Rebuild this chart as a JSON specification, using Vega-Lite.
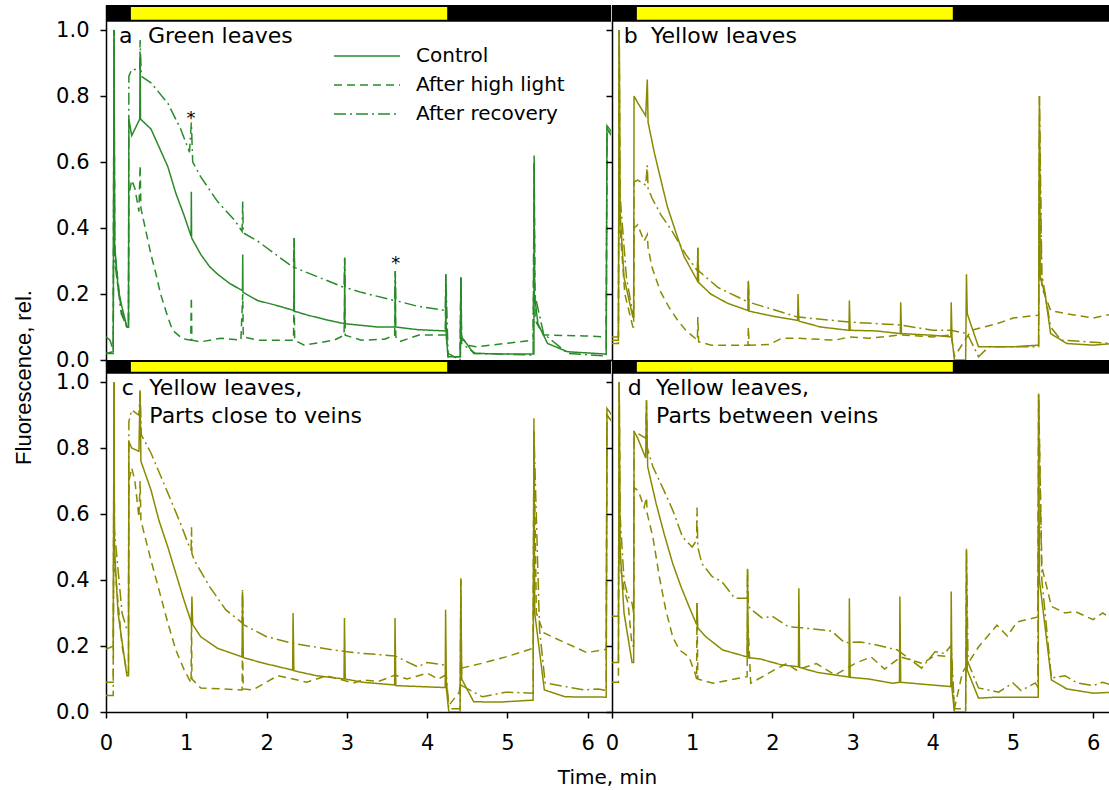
{
"$schema": "https://vega.github.io/schema/vega-lite/v6.json",
"padding": {"left": 12, "top": 5, "right": 0, "bottom": 0},
"background": "white",
"bounds": "flush",
"columns": 2,
"spacing": {"row": 0, "column": 1},
"resolve": {"scale": {"strokeDash": "independent"}, "legend": {"strokeDash": "independent"}},
"config": {
  "view": {"stroke": null},
  "font": "DejaVu Sans",
  "axis": {"grid": false, "domainColor": "black", "domainWidth": 1.5, "tickColor": "black", "tickWidth": 1.5, "tickSize": 6, "labelColor": "black", "labelFont": "DejaVu Sans", "labelFontSize": 21, "labelFlush": false, "labelOverlap": false, "titleColor": "black", "titleFontWeight": "normal"}
},
"datasets": {
  "bars": [{"phase": "dark", "start": 0, "end": 6.4}, {"phase": "light", "start": 0.31, "end": 4.25}],
  "labels": [
    {"panel": "a", "letter": "a", "l1": "Green leaves", "l2": ""},
    {"panel": "b", "letter": "b", "l1": "Yellow leaves", "l2": ""},
    {"panel": "c", "letter": "c", "l1": "Yellow leaves,", "l2": "Parts close to veins"},
    {"panel": "d", "letter": "d", "l1": "Yellow leaves,", "l2": "Parts between veins"}
  ],
  "stars": [{"t": 1.06, "v": 0.715}, {"t": 3.61, "v": 0.276}],
  "a": [
{"s":"C","t":0,"v":0.02},{"s":"C","t":0.09,"v":0.025},{"s":"C","t":0.1,"v":1.0},{"s":"C","t":0.108,"v":0.35},{"s":"C","t":0.15,"v":0.22},{"s":"C","t":0.19,"v":0.17},{"s":"C","t":0.26,"v":0.1},{"s":"C","t":0.28,"v":0.1},{"s":"C","t":0.285,"v":0.73},{"s":"C","t":0.32,"v":0.68},{"s":"C","t":0.42,"v":0.73},{"s":"C","t":0.425,"v":0.93},{"s":"C","t":0.43,"v":0.73},{"s":"C","t":0.56,"v":0.7},{"s":"C","t":0.66,"v":0.646},{"s":"C","t":0.77,"v":0.586},{"s":"C","t":0.87,"v":0.505},{"s":"C","t":0.97,"v":0.44},{"s":"C","t":1.06,"v":0.375},{"s":"C","t":1.063,"v":0.51},{"s":"C","t":1.066,"v":0.37},{"s":"C","t":1.18,"v":0.32},{"s":"C","t":1.29,"v":0.283},{"s":"C","t":1.39,"v":0.26},{"s":"C","t":1.54,"v":0.232},{"s":"C","t":1.7,"v":0.21},{"s":"C","t":1.703,"v":0.32},{"s":"C","t":1.706,"v":0.205},{"s":"C","t":1.89,"v":0.18},{"s":"C","t":2.1,"v":0.167},{"s":"C","t":2.34,"v":0.15},{"s":"C","t":2.343,"v":0.37},{"s":"C","t":2.346,"v":0.148},{"s":"C","t":2.51,"v":0.136},{"s":"C","t":2.76,"v":0.121},{"s":"C","t":2.97,"v":0.11},{"s":"C","t":2.973,"v":0.31},{"s":"C","t":2.976,"v":0.11},{"s":"C","t":3.18,"v":0.105},{"s":"C","t":3.38,"v":0.1},{"s":"C","t":3.6,"v":0.1},{"s":"C","t":3.603,"v":0.27},{"s":"C","t":3.606,"v":0.1},{"s":"C","t":3.88,"v":0.092},{"s":"C","t":4.23,"v":0.088},{"s":"C","t":4.233,"v":0.26},{"s":"C","t":4.236,"v":0.085},{"s":"C","t":4.26,"v":0.01},{"s":"C","t":4.415,"v":0.01},{"s":"C","t":4.42,"v":0.25},{"s":"C","t":4.425,"v":0.06},{"s":"C","t":4.46,"v":0.06},{"s":"C","t":4.58,"v":0.02},{"s":"C","t":5.0,"v":0.018},{"s":"C","t":5.33,"v":0.018},{"s":"C","t":5.333,"v":0.62},{"s":"C","t":5.336,"v":0.2},{"s":"C","t":5.38,"v":0.11},{"s":"C","t":5.5,"v":0.05},{"s":"C","t":5.75,"v":0.025},{"s":"C","t":6.23,"v":0.018},{"s":"C","t":6.24,"v":0.71},{"s":"C","t":6.3,"v":0.69},
{"s":"H","t":0,"v":0.02},{"s":"H","t":0.09,"v":0.02},{"s":"H","t":0.1,"v":1.0},{"s":"H","t":0.108,"v":0.33},{"s":"H","t":0.19,"v":0.15},{"s":"H","t":0.26,"v":0.1},{"s":"H","t":0.28,"v":0.1},{"s":"H","t":0.285,"v":0.5},{"s":"H","t":0.32,"v":0.545},{"s":"H","t":0.36,"v":0.52},{"s":"H","t":0.41,"v":0.45},{"s":"H","t":0.425,"v":0.59},{"s":"H","t":0.435,"v":0.46},{"s":"H","t":0.56,"v":0.32},{"s":"H","t":0.62,"v":0.263},{"s":"H","t":0.68,"v":0.2},{"s":"H","t":0.77,"v":0.13},{"s":"H","t":0.83,"v":0.09},{"s":"H","t":0.95,"v":0.065},{"s":"H","t":1.055,"v":0.06},{"s":"H","t":1.063,"v":0.19},{"s":"H","t":1.07,"v":0.06},{"s":"H","t":1.18,"v":0.055},{"s":"H","t":1.43,"v":0.066},{"s":"H","t":1.68,"v":0.06},{"s":"H","t":1.703,"v":0.2},{"s":"H","t":1.71,"v":0.07},{"s":"H","t":1.89,"v":0.06},{"s":"H","t":2.335,"v":0.06},{"s":"H","t":2.343,"v":0.2},{"s":"H","t":2.35,"v":0.06},{"s":"H","t":2.47,"v":0.045},{"s":"H","t":2.84,"v":0.06},{"s":"H","t":2.965,"v":0.075},{"s":"H","t":2.973,"v":0.2},{"s":"H","t":2.98,"v":0.075},{"s":"H","t":3.18,"v":0.06},{"s":"H","t":3.47,"v":0.063},{"s":"H","t":3.595,"v":0.075},{"s":"H","t":3.603,"v":0.2},{"s":"H","t":3.61,"v":0.07},{"s":"H","t":3.66,"v":0.056},{"s":"H","t":3.9,"v":0.076},{"s":"H","t":4.225,"v":0.076},{"s":"H","t":4.233,"v":0.2},{"s":"H","t":4.24,"v":0.07},{"s":"H","t":4.26,"v":0.01},{"s":"H","t":4.41,"v":0.01},{"s":"H","t":4.42,"v":0.25},{"s":"H","t":4.43,"v":0.07},{"s":"H","t":4.5,"v":0.045},{"s":"H","t":4.61,"v":0.04},{"s":"H","t":4.97,"v":0.05},{"s":"H","t":5.32,"v":0.06},{"s":"H","t":5.333,"v":0.6},{"s":"H","t":5.345,"v":0.12},{"s":"H","t":5.45,"v":0.076},{"s":"H","t":5.95,"v":0.073},{"s":"H","t":6.23,"v":0.07},{"s":"H","t":6.24,"v":0.7},{"s":"H","t":6.3,"v":0.68},
{"s":"R","t":0,"v":0.07},{"s":"R","t":0.05,"v":0.06},{"s":"R","t":0.09,"v":0.03},{"s":"R","t":0.1,"v":1.0},{"s":"R","t":0.108,"v":0.3},{"s":"R","t":0.19,"v":0.14},{"s":"R","t":0.26,"v":0.1},{"s":"R","t":0.28,"v":0.1},{"s":"R","t":0.285,"v":0.86},{"s":"R","t":0.32,"v":0.88},{"s":"R","t":0.42,"v":0.88},{"s":"R","t":0.425,"v":0.97},{"s":"R","t":0.44,"v":0.86},{"s":"R","t":0.56,"v":0.84},{"s":"R","t":0.77,"v":0.778},{"s":"R","t":0.93,"v":0.7},{"s":"R","t":1.04,"v":0.63},{"s":"R","t":1.063,"v":0.72},{"s":"R","t":1.08,"v":0.6},{"s":"R","t":1.18,"v":0.555},{"s":"R","t":1.39,"v":0.48},{"s":"R","t":1.6,"v":0.424},{"s":"R","t":1.695,"v":0.39},{"s":"R","t":1.703,"v":0.48},{"s":"R","t":1.71,"v":0.385},{"s":"R","t":1.89,"v":0.36},{"s":"R","t":2.335,"v":0.28},{"s":"R","t":2.343,"v":0.37},{"s":"R","t":2.35,"v":0.28},{"s":"R","t":2.965,"v":0.22},{"s":"R","t":2.973,"v":0.31},{"s":"R","t":2.98,"v":0.22},{"s":"R","t":3.18,"v":0.205},{"s":"R","t":3.595,"v":0.18},{"s":"R","t":3.603,"v":0.27},{"s":"R","t":3.61,"v":0.18},{"s":"R","t":3.88,"v":0.163},{"s":"R","t":4.225,"v":0.15},{"s":"R","t":4.233,"v":0.26},{"s":"R","t":4.26,"v":0.02},{"s":"R","t":4.41,"v":0.0},{"s":"R","t":4.42,"v":0.25},{"s":"R","t":4.43,"v":0.05},{"s":"R","t":4.6,"v":0.02},{"s":"R","t":5.32,"v":0.015},{"s":"R","t":5.333,"v":0.6},{"s":"R","t":5.34,"v":0.2},{"s":"R","t":5.45,"v":0.08},{"s":"R","t":5.75,"v":0.02},{"s":"R","t":6.23,"v":0.012},{"s":"R","t":6.24,"v":0.7},{"s":"R","t":6.3,"v":0.68}
  ],
  "b": [
{"s":"C","t":0,"v":0.06},{"s":"C","t":0.08,"v":0.06},{"s":"C","t":0.09,"v":1.0},{"s":"C","t":0.1,"v":0.45},{"s":"C","t":0.15,"v":0.25},{"s":"C","t":0.26,"v":0.13},{"s":"C","t":0.27,"v":0.13},{"s":"C","t":0.275,"v":0.8},{"s":"C","t":0.32,"v":0.78},{"s":"C","t":0.42,"v":0.74},{"s":"C","t":0.44,"v":0.85},{"s":"C","t":0.45,"v":0.72},{"s":"C","t":0.53,"v":0.626},{"s":"C","t":0.61,"v":0.545},{"s":"C","t":0.69,"v":0.465},{"s":"C","t":0.8,"v":0.384},{"s":"C","t":0.9,"v":0.313},{"s":"C","t":1.065,"v":0.24},{"s":"C","t":1.07,"v":0.34},{"s":"C","t":1.08,"v":0.235},{"s":"C","t":1.23,"v":0.2},{"s":"C","t":1.44,"v":0.172},{"s":"C","t":1.695,"v":0.15},{"s":"C","t":1.7,"v":0.24},{"s":"C","t":1.71,"v":0.148},{"s":"C","t":2.0,"v":0.133},{"s":"C","t":2.315,"v":0.12},{"s":"C","t":2.32,"v":0.2},{"s":"C","t":2.33,"v":0.118},{"s":"C","t":2.6,"v":0.1},{"s":"C","t":2.955,"v":0.09},{"s":"C","t":2.96,"v":0.18},{"s":"C","t":2.97,"v":0.09},{"s":"C","t":3.3,"v":0.088},{"s":"C","t":3.595,"v":0.08},{"s":"C","t":3.6,"v":0.175},{"s":"C","t":3.61,"v":0.08},{"s":"C","t":4.0,"v":0.075},{"s":"C","t":4.225,"v":0.07},{"s":"C","t":4.23,"v":0.175},{"s":"C","t":4.24,"v":0.065},{"s":"C","t":4.27,"v":0.0},{"s":"C","t":4.41,"v":0.0},{"s":"C","t":4.42,"v":0.26},{"s":"C","t":4.43,"v":0.14},{"s":"C","t":4.57,"v":0.04},{"s":"C","t":5.0,"v":0.04},{"s":"C","t":5.32,"v":0.045},{"s":"C","t":5.33,"v":0.8},{"s":"C","t":5.34,"v":0.25},{"s":"C","t":5.4,"v":0.2},{"s":"C","t":5.47,"v":0.08},{"s":"C","t":5.67,"v":0.05},{"s":"C","t":6.0,"v":0.045},{"s":"C","t":6.25,"v":0.05},
{"s":"H","t":0,"v":0.05},{"s":"H","t":0.08,"v":0.05},{"s":"H","t":0.09,"v":1.0},{"s":"H","t":0.1,"v":0.4},{"s":"H","t":0.16,"v":0.2},{"s":"H","t":0.26,"v":0.1},{"s":"H","t":0.27,"v":0.1},{"s":"H","t":0.275,"v":0.4},{"s":"H","t":0.32,"v":0.41},{"s":"H","t":0.4,"v":0.36},{"s":"H","t":0.44,"v":0.38},{"s":"H","t":0.45,"v":0.34},{"s":"H","t":0.5,"v":0.28},{"s":"H","t":0.6,"v":0.21},{"s":"H","t":0.71,"v":0.16},{"s":"H","t":0.82,"v":0.12},{"s":"H","t":0.92,"v":0.09},{"s":"H","t":1.065,"v":0.06},{"s":"H","t":1.07,"v":0.13},{"s":"H","t":1.08,"v":0.055},{"s":"H","t":1.24,"v":0.045},{"s":"H","t":1.695,"v":0.045},{"s":"H","t":1.7,"v":0.1},{"s":"H","t":1.71,"v":0.045},{"s":"H","t":1.96,"v":0.047},{"s":"H","t":2.12,"v":0.066},{"s":"H","t":2.33,"v":0.066},{"s":"H","t":2.78,"v":0.06},{"s":"H","t":2.96,"v":0.07},{"s":"H","t":3.2,"v":0.066},{"s":"H","t":3.6,"v":0.076},{"s":"H","t":4.0,"v":0.07},{"s":"H","t":4.23,"v":0.076},{"s":"H","t":4.27,"v":0.01},{"s":"H","t":4.48,"v":0.09},{"s":"H","t":4.8,"v":0.11},{"s":"H","t":5.0,"v":0.127},{"s":"H","t":5.32,"v":0.136},{"s":"H","t":5.33,"v":0.7},{"s":"H","t":5.36,"v":0.22},{"s":"H","t":5.47,"v":0.15},{"s":"H","t":5.67,"v":0.14},{"s":"H","t":6.0,"v":0.127},{"s":"H","t":6.25,"v":0.14},
{"s":"R","t":0,"v":0.07},{"s":"R","t":0.08,"v":0.07},{"s":"R","t":0.09,"v":1.0},{"s":"R","t":0.1,"v":0.5},{"s":"R","t":0.18,"v":0.25},{"s":"R","t":0.26,"v":0.14},{"s":"R","t":0.27,"v":0.14},{"s":"R","t":0.275,"v":0.54},{"s":"R","t":0.32,"v":0.545},{"s":"R","t":0.42,"v":0.53},{"s":"R","t":0.44,"v":0.59},{"s":"R","t":0.45,"v":0.52},{"s":"R","t":0.5,"v":0.49},{"s":"R","t":0.61,"v":0.44},{"s":"R","t":0.75,"v":0.39},{"s":"R","t":0.92,"v":0.32},{"s":"R","t":1.065,"v":0.27},{"s":"R","t":1.07,"v":0.34},{"s":"R","t":1.08,"v":0.27},{"s":"R","t":1.32,"v":0.22},{"s":"R","t":1.695,"v":0.176},{"s":"R","t":1.7,"v":0.24},{"s":"R","t":1.71,"v":0.175},{"s":"R","t":2.32,"v":0.13},{"s":"R","t":2.96,"v":0.115},{"s":"R","t":3.6,"v":0.106},{"s":"R","t":4.0,"v":0.09},{"s":"R","t":4.23,"v":0.09},{"s":"R","t":4.43,"v":0.08},{"s":"R","t":4.57,"v":0.01},{"s":"R","t":4.7,"v":0.04},{"s":"R","t":5.32,"v":0.04},{"s":"R","t":5.33,"v":0.8},{"s":"R","t":5.36,"v":0.26},{"s":"R","t":5.47,"v":0.1},{"s":"R","t":5.6,"v":0.06},{"s":"R","t":6.25,"v":0.05}
  ],
  "c": [
{"s":"C","t":0,"v":0.19},{"s":"C","t":0.09,"v":0.2},{"s":"C","t":0.1,"v":1.0},{"s":"C","t":0.105,"v":0.5},{"s":"C","t":0.15,"v":0.3},{"s":"C","t":0.26,"v":0.11},{"s":"C","t":0.28,"v":0.11},{"s":"C","t":0.285,"v":0.82},{"s":"C","t":0.32,"v":0.8},{"s":"C","t":0.41,"v":0.79},{"s":"C","t":0.425,"v":0.975},{"s":"C","t":0.435,"v":0.76},{"s":"C","t":0.56,"v":0.673},{"s":"C","t":0.66,"v":0.58},{"s":"C","t":0.77,"v":0.5},{"s":"C","t":0.87,"v":0.42},{"s":"C","t":0.97,"v":0.34},{"s":"C","t":1.065,"v":0.27},{"s":"C","t":1.07,"v":0.35},{"s":"C","t":1.08,"v":0.265},{"s":"C","t":1.18,"v":0.228},{"s":"C","t":1.39,"v":0.193},{"s":"C","t":1.695,"v":0.167},{"s":"C","t":1.7,"v":0.365},{"s":"C","t":1.71,"v":0.165},{"s":"C","t":1.96,"v":0.148},{"s":"C","t":2.325,"v":0.127},{"s":"C","t":2.33,"v":0.3},{"s":"C","t":2.34,"v":0.125},{"s":"C","t":2.62,"v":0.11},{"s":"C","t":2.965,"v":0.1},{"s":"C","t":2.97,"v":0.285},{"s":"C","t":2.98,"v":0.1},{"s":"C","t":3.2,"v":0.09},{"s":"C","t":3.595,"v":0.082},{"s":"C","t":3.6,"v":0.285},{"s":"C","t":3.61,"v":0.08},{"s":"C","t":4.225,"v":0.074},{"s":"C","t":4.23,"v":0.31},{"s":"C","t":4.24,"v":0.07},{"s":"C","t":4.27,"v":0.0},{"s":"C","t":4.41,"v":0.0},{"s":"C","t":4.42,"v":0.405},{"s":"C","t":4.43,"v":0.1},{"s":"C","t":4.58,"v":0.031},{"s":"C","t":4.9,"v":0.03},{"s":"C","t":5.32,"v":0.036},{"s":"C","t":5.33,"v":0.89},{"s":"C","t":5.34,"v":0.3},{"s":"C","t":5.46,"v":0.067},{"s":"C","t":5.72,"v":0.046},{"s":"C","t":6.23,"v":0.045},{"s":"C","t":6.24,"v":0.92},{"s":"C","t":6.3,"v":0.9},
{"s":"H","t":0,"v":0.09},{"s":"H","t":0.09,"v":0.09},{"s":"H","t":0.1,"v":1.0},{"s":"H","t":0.105,"v":0.45},{"s":"H","t":0.2,"v":0.2},{"s":"H","t":0.26,"v":0.12},{"s":"H","t":0.28,"v":0.12},{"s":"H","t":0.285,"v":0.7},{"s":"H","t":0.32,"v":0.74},{"s":"H","t":0.36,"v":0.7},{"s":"H","t":0.41,"v":0.59},{"s":"H","t":0.425,"v":0.7},{"s":"H","t":0.435,"v":0.58},{"s":"H","t":0.56,"v":0.46},{"s":"H","t":0.66,"v":0.37},{"s":"H","t":0.77,"v":0.27},{"s":"H","t":0.87,"v":0.188},{"s":"H","t":0.975,"v":0.127},{"s":"H","t":1.06,"v":0.088},{"s":"H","t":1.065,"v":0.3},{"s":"H","t":1.07,"v":0.1},{"s":"H","t":1.18,"v":0.073},{"s":"H","t":1.695,"v":0.067},{"s":"H","t":1.7,"v":0.2},{"s":"H","t":1.71,"v":0.07},{"s":"H","t":1.83,"v":0.067},{"s":"H","t":2.14,"v":0.11},{"s":"H","t":2.33,"v":0.1},{"s":"H","t":2.5,"v":0.09},{"s":"H","t":2.75,"v":0.11},{"s":"H","t":3.08,"v":0.088},{"s":"H","t":3.2,"v":0.097},{"s":"H","t":3.4,"v":0.093},{"s":"H","t":3.6,"v":0.112},{"s":"H","t":3.75,"v":0.1},{"s":"H","t":4.0,"v":0.118},{"s":"H","t":4.14,"v":0.1},{"s":"H","t":4.23,"v":0.112},{"s":"H","t":4.27,"v":0.02},{"s":"H","t":4.4,"v":0.06},{"s":"H","t":4.43,"v":0.133},{"s":"H","t":4.69,"v":0.148},{"s":"H","t":4.98,"v":0.167},{"s":"H","t":5.32,"v":0.193},{"s":"H","t":5.33,"v":0.85},{"s":"H","t":5.36,"v":0.3},{"s":"H","t":5.45,"v":0.24},{"s":"H","t":5.7,"v":0.212},{"s":"H","t":5.99,"v":0.18},{"s":"H","t":6.23,"v":0.19},{"s":"H","t":6.24,"v":0.9},{"s":"H","t":6.3,"v":0.88},
{"s":"R","t":0,"v":0.05},{"s":"R","t":0.09,"v":0.05},{"s":"R","t":0.1,"v":1.0},{"s":"R","t":0.105,"v":0.55},{"s":"R","t":0.2,"v":0.3},{"s":"R","t":0.26,"v":0.25},{"s":"R","t":0.28,"v":0.25},{"s":"R","t":0.285,"v":0.88},{"s":"R","t":0.32,"v":0.915},{"s":"R","t":0.41,"v":0.9},{"s":"R","t":0.425,"v":0.97},{"s":"R","t":0.44,"v":0.84},{"s":"R","t":0.56,"v":0.785},{"s":"R","t":0.77,"v":0.664},{"s":"R","t":0.93,"v":0.57},{"s":"R","t":1.04,"v":0.5},{"s":"R","t":1.06,"v":0.49},{"s":"R","t":1.065,"v":0.56},{"s":"R","t":1.07,"v":0.48},{"s":"R","t":1.1,"v":0.46},{"s":"R","t":1.29,"v":0.38},{"s":"R","t":1.49,"v":0.31},{"s":"R","t":1.695,"v":0.27},{"s":"R","t":1.7,"v":0.37},{"s":"R","t":1.71,"v":0.265},{"s":"R","t":2.0,"v":0.228},{"s":"R","t":2.33,"v":0.208},{"s":"R","t":2.83,"v":0.188},{"s":"R","t":3.08,"v":0.18},{"s":"R","t":3.6,"v":0.17},{"s":"R","t":3.88,"v":0.137},{"s":"R","t":4.0,"v":0.15},{"s":"R","t":4.23,"v":0.142},{"s":"R","t":4.27,"v":0.01},{"s":"R","t":4.41,"v":0.01},{"s":"R","t":4.42,"v":0.4},{"s":"R","t":4.43,"v":0.08},{"s":"R","t":4.69,"v":0.046},{"s":"R","t":4.98,"v":0.06},{"s":"R","t":5.32,"v":0.057},{"s":"R","t":5.33,"v":0.85},{"s":"R","t":5.4,"v":0.25},{"s":"R","t":5.47,"v":0.088},{"s":"R","t":5.95,"v":0.067},{"s":"R","t":6.13,"v":0.07},{"s":"R","t":6.23,"v":0.065},{"s":"R","t":6.24,"v":0.9},{"s":"R","t":6.3,"v":0.88}
  ],
  "d": [
{"s":"C","t":0,"v":0.15},{"s":"C","t":0.08,"v":0.15},{"s":"C","t":0.09,"v":1.0},{"s":"C","t":0.1,"v":0.5},{"s":"C","t":0.15,"v":0.3},{"s":"C","t":0.25,"v":0.15},{"s":"C","t":0.27,"v":0.15},{"s":"C","t":0.275,"v":0.85},{"s":"C","t":0.32,"v":0.83},{"s":"C","t":0.42,"v":0.77},{"s":"C","t":0.43,"v":0.945},{"s":"C","t":0.445,"v":0.743},{"s":"C","t":0.55,"v":0.632},{"s":"C","t":0.65,"v":0.54},{"s":"C","t":0.757,"v":0.45},{"s":"C","t":0.86,"v":0.38},{"s":"C","t":0.96,"v":0.32},{"s":"C","t":1.055,"v":0.265},{"s":"C","t":1.06,"v":0.33},{"s":"C","t":1.07,"v":0.255},{"s":"C","t":1.17,"v":0.228},{"s":"C","t":1.38,"v":0.188},{"s":"C","t":1.685,"v":0.167},{"s":"C","t":1.69,"v":0.43},{"s":"C","t":1.7,"v":0.165},{"s":"C","t":1.86,"v":0.16},{"s":"C","t":2.11,"v":0.143},{"s":"C","t":2.325,"v":0.137},{"s":"C","t":2.33,"v":0.375},{"s":"C","t":2.34,"v":0.135},{"s":"C","t":2.56,"v":0.12},{"s":"C","t":2.955,"v":0.106},{"s":"C","t":2.96,"v":0.345},{"s":"C","t":2.97,"v":0.105},{"s":"C","t":3.2,"v":0.1},{"s":"C","t":3.5,"v":0.087},{"s":"C","t":3.585,"v":0.09},{"s":"C","t":3.59,"v":0.35},{"s":"C","t":3.6,"v":0.09},{"s":"C","t":4.225,"v":0.077},{"s":"C","t":4.23,"v":0.365},{"s":"C","t":4.24,"v":0.07},{"s":"C","t":4.27,"v":0.0},{"s":"C","t":4.41,"v":0.0},{"s":"C","t":4.42,"v":0.495},{"s":"C","t":4.43,"v":0.127},{"s":"C","t":4.57,"v":0.042},{"s":"C","t":4.8,"v":0.045},{"s":"C","t":5.315,"v":0.045},{"s":"C","t":5.32,"v":0.965},{"s":"C","t":5.33,"v":0.4},{"s":"C","t":5.48,"v":0.097},{"s":"C","t":5.67,"v":0.07},{"s":"C","t":6.0,"v":0.057},{"s":"C","t":6.25,"v":0.06},
{"s":"H","t":0,"v":0.09},{"s":"H","t":0.08,"v":0.09},{"s":"H","t":0.09,"v":1.0},{"s":"H","t":0.1,"v":0.45},{"s":"H","t":0.15,"v":0.37},{"s":"H","t":0.2,"v":0.33},{"s":"H","t":0.25,"v":0.2},{"s":"H","t":0.27,"v":0.2},{"s":"H","t":0.275,"v":0.68},{"s":"H","t":0.33,"v":0.67},{"s":"H","t":0.4,"v":0.62},{"s":"H","t":0.43,"v":0.65},{"s":"H","t":0.44,"v":0.6},{"s":"H","t":0.51,"v":0.53},{"s":"H","t":0.59,"v":0.41},{"s":"H","t":0.67,"v":0.31},{"s":"H","t":0.757,"v":0.228},{"s":"H","t":0.84,"v":0.188},{"s":"H","t":0.96,"v":0.167},{"s":"H","t":1.04,"v":0.115},{"s":"H","t":1.055,"v":0.1},{"s":"H","t":1.06,"v":0.33},{"s":"H","t":1.07,"v":0.1},{"s":"H","t":1.26,"v":0.087},{"s":"H","t":1.685,"v":0.107},{"s":"H","t":1.69,"v":0.3},{"s":"H","t":1.73,"v":0.087},{"s":"H","t":2.02,"v":0.127},{"s":"H","t":2.18,"v":0.147},{"s":"H","t":2.3,"v":0.127},{"s":"H","t":2.55,"v":0.147},{"s":"H","t":2.78,"v":0.112},{"s":"H","t":3.03,"v":0.147},{"s":"H","t":3.23,"v":0.167},{"s":"H","t":3.4,"v":0.13},{"s":"H","t":3.6,"v":0.167},{"s":"H","t":3.87,"v":0.147},{"s":"H","t":4.03,"v":0.172},{"s":"H","t":4.23,"v":0.167},{"s":"H","t":4.27,"v":0.01},{"s":"H","t":4.37,"v":0.12},{"s":"H","t":4.57,"v":0.197},{"s":"H","t":4.8,"v":0.263},{"s":"H","t":4.93,"v":0.23},{"s":"H","t":5.05,"v":0.273},{"s":"H","t":5.31,"v":0.288},{"s":"H","t":5.32,"v":0.96},{"s":"H","t":5.36,"v":0.44},{"s":"H","t":5.48,"v":0.32},{"s":"H","t":5.65,"v":0.3},{"s":"H","t":5.77,"v":0.305},{"s":"H","t":6.0,"v":0.28},{"s":"H","t":6.12,"v":0.3},{"s":"H","t":6.25,"v":0.28},
{"s":"R","t":0,"v":0.29},{"s":"R","t":0.08,"v":0.29},{"s":"R","t":0.09,"v":1.0},{"s":"R","t":0.1,"v":0.6},{"s":"R","t":0.15,"v":0.4},{"s":"R","t":0.2,"v":0.35},{"s":"R","t":0.25,"v":0.33},{"s":"R","t":0.27,"v":0.3},{"s":"R","t":0.275,"v":0.85},{"s":"R","t":0.42,"v":0.83},{"s":"R","t":0.43,"v":0.945},{"s":"R","t":0.44,"v":0.8},{"s":"R","t":0.51,"v":0.743},{"s":"R","t":0.65,"v":0.67},{"s":"R","t":0.76,"v":0.61},{"s":"R","t":0.88,"v":0.53},{"s":"R","t":1.0,"v":0.5},{"s":"R","t":1.055,"v":0.52},{"s":"R","t":1.06,"v":0.62},{"s":"R","t":1.07,"v":0.5},{"s":"R","t":1.12,"v":0.45},{"s":"R","t":1.25,"v":0.41},{"s":"R","t":1.37,"v":0.395},{"s":"R","t":1.53,"v":0.345},{"s":"R","t":1.685,"v":0.345},{"s":"R","t":1.69,"v":0.44},{"s":"R","t":1.7,"v":0.32},{"s":"R","t":1.74,"v":0.31},{"s":"R","t":1.87,"v":0.285},{"s":"R","t":2.0,"v":0.29},{"s":"R","t":2.2,"v":0.258},{"s":"R","t":2.37,"v":0.255},{"s":"R","t":2.57,"v":0.25},{"s":"R","t":2.74,"v":0.245},{"s":"R","t":2.9,"v":0.21},{"s":"R","t":3.1,"v":0.212},{"s":"R","t":3.3,"v":0.203},{"s":"R","t":3.56,"v":0.188},{"s":"R","t":3.7,"v":0.162},{"s":"R","t":3.86,"v":0.133},{"s":"R","t":4.03,"v":0.183},{"s":"R","t":4.15,"v":0.177},{"s":"R","t":4.23,"v":0.203},{"s":"R","t":4.27,"v":0.01},{"s":"R","t":4.41,"v":0.01},{"s":"R","t":4.42,"v":0.49},{"s":"R","t":4.44,"v":0.15},{"s":"R","t":4.57,"v":0.073},{"s":"R","t":4.82,"v":0.06},{"s":"R","t":5.0,"v":0.088},{"s":"R","t":5.1,"v":0.065},{"s":"R","t":5.28,"v":0.088},{"s":"R","t":5.31,"v":0.075},{"s":"R","t":5.32,"v":0.96},{"s":"R","t":5.36,"v":0.4},{"s":"R","t":5.48,"v":0.103},{"s":"R","t":5.65,"v":0.11},{"s":"R","t":5.8,"v":0.088},{"s":"R","t":6.0,"v":0.08},{"s":"R","t":6.12,"v":0.09},{"s":"R","t":6.25,"v":0.08}
  ]
},
"concat": [
  {
    "width": 505, "height": 355,
    "layer": [
      {"data": {"name": "a"}, "mark": {"type": "line", "color": "#2a8a2a", "strokeWidth": 1.5, "clip": true},
       "encoding": {
         "x": {"field": "t", "type": "quantitative", "scale": {"domain": [0, 6.29], "nice": false, "zero": false}, "axis": null},
         "y": {"field": "v", "type": "quantitative", "scale": {"domain": [0, 1.0758], "nice": false}, "axis": {"values": [0, 0.2, 0.4, 0.6, 0.8, 1.0], "format": ".1f", "labelPadding": 11, "title": "Fluorescence, rel.", "titleFont": "Liberation Sans", "titleFontSize": 22, "titleX": -83, "titleY": 372, "titleAngle": -90, "titleAlign": "center", "titleBaseline": "middle"}},
         "strokeDash": {"field": "s", "type": "nominal", "scale": {"domain": ["C", "H", "R"], "range": [[1, 0], [8, 5], [12, 4, 2, 4]]},
           "legend": {"orient": "none", "legendX": 250, "legendY": 40, "title": null, "symbolType": "M-3.3,0H3.3", "symbolStrokeColor": "#2a8a2a", "symbolStrokeWidth": 1.5, "symbolSize": 400, "labelFont": "DejaVu Sans", "labelFontSize": 20, "labelColor": "black", "labelOffset": 38, "rowPadding": 8, "padding": 0,
             "labelExpr": "datum.value == 'C' ? 'Control' : datum.value == 'H' ? 'After high light' : 'After recovery'"}}
       }},
      {"data": {"name": "bars"}, "transform": [{"filter": "datum.phase === 'dark'"}], "mark": {"type": "rect", "color": "black", "clip": true},
       "encoding": {"x": {"field": "start", "type": "quantitative"}, "x2": {"field": "end"}, "y": {"datum": 1.025, "type": "quantitative"}, "y2": {"datum": 1.0758}}},
      {"data": {"name": "bars"}, "transform": [{"filter": "datum.phase === 'light'"}], "mark": {"type": "rect", "color": "#ffff00", "clip": true},
       "encoding": {"x": {"field": "start", "type": "quantitative"}, "x2": {"field": "end"}, "y": {"datum": 1.031, "type": "quantitative"}, "y2": {"datum": 1.0697}}},
      {"data": {"name": "labels"}, "transform": [{"filter": "datum.panel === 'a'"}], "mark": {"type": "text", "align": "left", "baseline": "alphabetic", "fontSize": 22, "font": "DejaVu Sans", "color": "black"},
       "encoding": {"x": {"datum": 0.162, "type": "quantitative"}, "y": {"datum": 0.96, "type": "quantitative"}, "text": {"field": "letter"}}},
      {"data": {"name": "labels"}, "transform": [{"filter": "datum.panel === 'a'"}], "mark": {"type": "text", "align": "left", "baseline": "alphabetic", "fontSize": 22, "font": "DejaVu Sans", "color": "black"},
       "encoding": {"x": {"datum": 0.523, "type": "quantitative"}, "y": {"datum": 0.96, "type": "quantitative"}, "text": {"field": "l1"}}},
      {"data": {"name": "stars"}, "mark": {"type": "text", "align": "center", "baseline": "alphabetic", "fontSize": 18, "font": "DejaVu Sans", "color": "black"},
       "encoding": {"x": {"field": "t", "type": "quantitative"}, "y": {"field": "v", "type": "quantitative"}, "text": {"value": "*"}}}
    ]
  },
  {
    "width": 498, "height": 355,
    "layer": [
      {"data": {"name": "b"}, "mark": {"type": "line", "color": "#8a8a00", "strokeWidth": 1.5, "clip": true},
       "encoding": {
         "x": {"field": "t", "type": "quantitative", "scale": {"domain": [0, 6.21], "nice": false, "zero": false}, "axis": null},
         "y": {"field": "v", "type": "quantitative", "scale": {"domain": [0, 1.0758], "nice": false}, "axis": {"values": [0, 0.2, 0.4, 0.6, 0.8, 1.0], "labels": false, "title": null}},
         "strokeDash": {"field": "s", "type": "nominal", "scale": {"domain": ["C", "H", "R"], "range": [[1, 0], [8, 5], [12, 4, 2, 4]]}, "legend": null}
       }},
      {"data": {"name": "bars"}, "transform": [{"filter": "datum.phase === 'dark'"}], "mark": {"type": "rect", "color": "black", "clip": true},
       "encoding": {"x": {"field": "start", "type": "quantitative"}, "x2": {"field": "end"}, "y": {"datum": 1.025, "type": "quantitative"}, "y2": {"datum": 1.0758}}},
      {"data": {"name": "bars"}, "transform": [{"filter": "datum.phase === 'light'"}], "mark": {"type": "rect", "color": "#ffff00", "clip": true},
       "encoding": {"x": {"field": "start", "type": "quantitative"}, "x2": {"field": "end"}, "y": {"datum": 1.031, "type": "quantitative"}, "y2": {"datum": 1.0697}}},
      {"data": {"name": "labels"}, "transform": [{"filter": "datum.panel === 'b'"}], "mark": {"type": "text", "align": "left", "baseline": "alphabetic", "fontSize": 22, "font": "DejaVu Sans", "color": "black"},
       "encoding": {"x": {"datum": 0.146, "type": "quantitative"}, "y": {"datum": 0.96, "type": "quantitative"}, "text": {"field": "letter"}}},
      {"data": {"name": "labels"}, "transform": [{"filter": "datum.panel === 'b'"}], "mark": {"type": "text", "align": "left", "baseline": "alphabetic", "fontSize": 22, "font": "DejaVu Sans", "color": "black"},
       "encoding": {"x": {"datum": 0.486, "type": "quantitative"}, "y": {"datum": 0.96, "type": "quantitative"}, "text": {"field": "l1"}}}
    ]
  },
  {
    "width": 505, "height": 352,
    "layer": [
      {"data": {"name": "c"}, "mark": {"type": "line", "color": "#8a8a00", "strokeWidth": 1.5, "clip": true},
       "encoding": {
         "x": {"field": "t", "type": "quantitative", "scale": {"domain": [0, 6.29], "nice": false, "zero": false}, "axis": {"values": [0, 1, 2, 3, 4, 5, 6], "format": "d", "labelPadding": 14, "title": "Time, min", "titleFont": "DejaVu Sans", "titleFontSize": 20, "titleX": 501, "titleY": 71, "titleAngle": 0, "titleAlign": "center", "titleBaseline": "alphabetic"}},
         "y": {"field": "v", "type": "quantitative", "scale": {"domain": [0, 1.0667], "nice": false}, "axis": {"values": [0, 0.2, 0.4, 0.6, 0.8, 1.0], "format": ".1f", "labelPadding": 11, "title": null}},
         "strokeDash": {"field": "s", "type": "nominal", "scale": {"domain": ["C", "H", "R"], "range": [[1, 0], [8, 5], [12, 4, 2, 4]]}, "legend": null}
       }},
      {"data": {"name": "bars"}, "transform": [{"filter": "datum.phase === 'dark'"}], "mark": {"type": "rect", "color": "black", "clip": true},
       "encoding": {"x": {"field": "start", "type": "quantitative"}, "x2": {"field": "end"}, "y": {"datum": 1.025, "type": "quantitative"}, "y2": {"datum": 1.0667}}},
      {"data": {"name": "bars"}, "transform": [{"filter": "datum.phase === 'light'"}], "mark": {"type": "rect", "color": "#ffff00", "clip": true},
       "encoding": {"x": {"field": "start", "type": "quantitative"}, "x2": {"field": "end"}, "y": {"datum": 1.031, "type": "quantitative"}, "y2": {"datum": 1.0606}}},
      {"data": {"name": "labels"}, "transform": [{"filter": "datum.panel === 'c'"}], "mark": {"type": "text", "align": "left", "baseline": "alphabetic", "fontSize": 22, "font": "DejaVu Sans", "color": "black"},
       "encoding": {"x": {"datum": 0.195, "type": "quantitative"}, "y": {"datum": 0.96, "type": "quantitative"}, "text": {"field": "letter"}}},
      {"data": {"name": "labels"}, "transform": [{"filter": "datum.panel === 'c'"}], "mark": {"type": "text", "align": "left", "baseline": "alphabetic", "fontSize": 22, "font": "DejaVu Sans", "color": "black"},
       "encoding": {"x": {"datum": 0.54, "type": "quantitative"}, "y": {"datum": 0.96, "type": "quantitative"}, "text": {"field": "l1"}}},
      {"data": {"name": "labels"}, "transform": [{"filter": "datum.panel === 'c'"}], "mark": {"type": "text", "align": "left", "baseline": "alphabetic", "fontSize": 22, "font": "DejaVu Sans", "color": "black"},
       "encoding": {"x": {"datum": 0.54, "type": "quantitative"}, "y": {"datum": 0.875, "type": "quantitative"}, "text": {"field": "l2"}}}
    ]
  },
  {
    "width": 498, "height": 352,
    "layer": [
      {"data": {"name": "d"}, "mark": {"type": "line", "color": "#8a8a00", "strokeWidth": 1.5, "clip": true},
       "encoding": {
         "x": {"field": "t", "type": "quantitative", "scale": {"domain": [0, 6.21], "nice": false, "zero": false}, "axis": {"values": [0, 1, 2, 3, 4, 5, 6], "format": "d", "labelPadding": 14, "title": null}},
         "y": {"field": "v", "type": "quantitative", "scale": {"domain": [0, 1.0667], "nice": false}, "axis": {"values": [0, 0.2, 0.4, 0.6, 0.8, 1.0], "labels": false, "title": null}},
         "strokeDash": {"field": "s", "type": "nominal", "scale": {"domain": ["C", "H", "R"], "range": [[1, 0], [8, 5], [12, 4, 2, 4]]}, "legend": null}
       }},
      {"data": {"name": "bars"}, "transform": [{"filter": "datum.phase === 'dark'"}], "mark": {"type": "rect", "color": "black", "clip": true},
       "encoding": {"x": {"field": "start", "type": "quantitative"}, "x2": {"field": "end"}, "y": {"datum": 1.025, "type": "quantitative"}, "y2": {"datum": 1.0667}}},
      {"data": {"name": "bars"}, "transform": [{"filter": "datum.phase === 'light'"}], "mark": {"type": "rect", "color": "#ffff00", "clip": true},
       "encoding": {"x": {"field": "start", "type": "quantitative"}, "x2": {"field": "end"}, "y": {"datum": 1.031, "type": "quantitative"}, "y2": {"datum": 1.0606}}},
      {"data": {"name": "labels"}, "transform": [{"filter": "datum.panel === 'd'"}], "mark": {"type": "text", "align": "left", "baseline": "alphabetic", "fontSize": 22, "font": "DejaVu Sans", "color": "black"},
       "encoding": {"x": {"datum": 0.195, "type": "quantitative"}, "y": {"datum": 0.96, "type": "quantitative"}, "text": {"field": "letter"}}},
      {"data": {"name": "labels"}, "transform": [{"filter": "datum.panel === 'd'"}], "mark": {"type": "text", "align": "left", "baseline": "alphabetic", "fontSize": 22, "font": "DejaVu Sans", "color": "black"},
       "encoding": {"x": {"datum": 0.55, "type": "quantitative"}, "y": {"datum": 0.96, "type": "quantitative"}, "text": {"field": "l1"}}},
      {"data": {"name": "labels"}, "transform": [{"filter": "datum.panel === 'd'"}], "mark": {"type": "text", "align": "left", "baseline": "alphabetic", "fontSize": 22, "font": "DejaVu Sans", "color": "black"},
       "encoding": {"x": {"datum": 0.55, "type": "quantitative"}, "y": {"datum": 0.875, "type": "quantitative"}, "text": {"field": "l2"}}}
    ]
  }
]
}
